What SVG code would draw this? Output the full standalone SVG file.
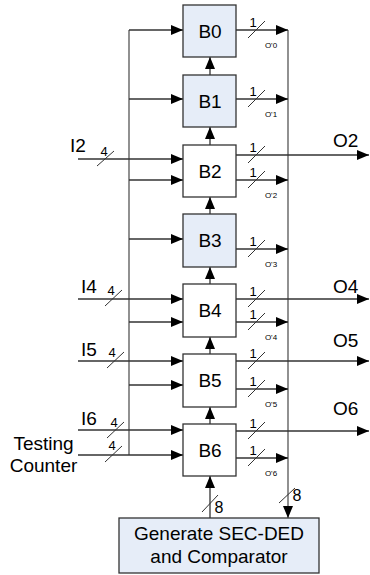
<svg xmlns="http://www.w3.org/2000/svg" width="370" height="575" viewBox="0 0 370 575">
<style>
.blk{stroke:#333;stroke-width:1.3}
.blue{fill:#e6edf8}
.white{fill:#fff}
.lbl{font-family:"Liberation Sans",Arial,sans-serif;font-size:19px;fill:#000}
.mid{text-anchor:middle}
.sm{font-family:"Liberation Sans",Arial,sans-serif;font-size:13px;fill:#000;text-anchor:middle}
.eight{font-family:"Liberation Sans",Arial,sans-serif;font-size:16px;fill:#000;text-anchor:middle}
.xs{font-family:"Liberation Sans",Arial,sans-serif;font-size:8px;fill:#000;text-anchor:middle}
.w{stroke:#333;stroke-width:1.3;fill:none}
.bus{stroke:#555;stroke-width:1.3;fill:none}
.a{marker-end:url(#ah)}
.sl{stroke:#333;stroke-width:1;fill:none}
</style>
<defs>
<marker id="ah" markerUnits="userSpaceOnUse" markerWidth="12" markerHeight="10" refX="12" refY="5" orient="auto">
<path d="M0,0 L12,5 L0,10 z" fill="#000"/>
</marker>
</defs>
<g id="connectors">
<path class="bus" d="M129,30 V455"/>
<path class="bus a" d="M288,30 V518"/>
<path class="w a" d="M129,30 H183"/>
<path class="w a" d="M129,99 H183"/>
<path class="w a" d="M129,180 H183"/>
<path class="w a" d="M129,239 H183"/>
<path class="w a" d="M129,322 H183"/>
<path class="w a" d="M129,385 H183"/>
<path class="w a" d="M78,159 H183"/>
<path class="w a" d="M78,299 H183"/>
<path class="w a" d="M78,361 H183"/>
<path class="w a" d="M78,430 H183"/>
<path class="w a" d="M78,455 H183"/>
<path class="w a" d="M236,30 H288"/>
<path class="w a" d="M236,99 H288"/>
<path class="w a" d="M236,180 H288"/>
<path class="w a" d="M236,249 H288"/>
<path class="w a" d="M236,322 H288"/>
<path class="w a" d="M236,389 H288"/>
<path class="w a" d="M236,458 H288"/>
<path class="w a" d="M236,155 H369"/>
<path class="w a" d="M236,299 H369"/>
<path class="w a" d="M236,361 H369"/>
<path class="w a" d="M236,431 H369"/>
<path class="w a" d="M210,75 V57"/>
<path class="w a" d="M210,145 V127"/>
<path class="w a" d="M210,214 V197"/>
<path class="w a" d="M210,284 V267"/>
<path class="w a" d="M210,354 V337"/>
<path class="w a" d="M210,424 V407"/>
<path class="w a" d="M210,518 V476"/>
<path class="sl" d="M97,166 L114,151"/>
<path class="sl" d="M105,306 L122,290"/>
<path class="sl" d="M107,368 L124,352"/>
<path class="sl" d="M107,438 L124,422"/>
<path class="sl" d="M105,462 L122,446"/>
<path class="sl" d="M248,38 L265,21"/>
<path class="sl" d="M248,107 L265,90"/>
<path class="sl" d="M248,163 L265,146"/>
<path class="sl" d="M248,188 L265,171"/>
<path class="sl" d="M248,257 L265,240"/>
<path class="sl" d="M248,307 L265,290"/>
<path class="sl" d="M248,330 L265,313"/>
<path class="sl" d="M248,369 L265,352"/>
<path class="sl" d="M248,397 L265,380"/>
<path class="sl" d="M248,439 L265,422"/>
<path class="sl" d="M248,466 L265,449"/>
<path class="sl" d="M202,512 L218,495"/>
<path class="sl" d="M279,503 L295,488"/>
<text class="sm" x="104" y="156">4</text>
<text class="sm" x="111" y="295">4</text>
<text class="sm" x="112" y="357">4</text>
<text class="sm" x="114" y="427">4</text>
<text class="sm" x="112" y="450">4</text>
<text class="sm" x="253" y="27">1</text>
<text class="sm" x="253" y="96">1</text>
<text class="sm" x="253" y="152">1</text>
<text class="sm" x="253" y="177">1</text>
<text class="sm" x="253" y="246">1</text>
<text class="sm" x="253" y="296">1</text>
<text class="sm" x="253" y="319">1</text>
<text class="sm" x="253" y="358">1</text>
<text class="sm" x="253" y="386">1</text>
<text class="sm" x="253" y="428">1</text>
<text class="sm" x="253" y="455">1</text>
<text class="eight" x="219" y="513">8</text>
<text class="eight" x="297" y="501">8</text>
<text class="xs" x="271" y="48">O'0</text>
<text class="xs" x="271" y="117">O'1</text>
<text class="xs" x="271" y="198">O'2</text>
<text class="xs" x="271" y="267">O'3</text>
<text class="xs" x="271" y="340">O'4</text>
<text class="xs" x="271" y="407">O'5</text>
<text class="xs" x="271" y="476">O'6</text>
<text class="lbl" x="70" y="152">I2</text>
<text class="lbl" x="81" y="293">I4</text>
<text class="lbl" x="81" y="356">I5</text>
<text class="lbl" x="81" y="425">I6</text>
<text class="lbl mid" x="43.5" y="450">Testing</text>
<text class="lbl mid" x="43.5" y="472">Counter</text>
<text class="lbl" x="333" y="147">O2</text>
<text class="lbl" x="333" y="293">O4</text>
<text class="lbl" x="333" y="347">O5</text>
<text class="lbl" x="333" y="415">O6</text>
</g>
<g id="B0"><rect class="blk blue" x="183" y="5" width="53" height="52"/><text class="lbl mid" x="210" y="38">B0</text></g>
<g id="B1"><rect class="blk blue" x="183" y="75" width="53" height="52"/><text class="lbl mid" x="210" y="108">B1</text></g>
<g id="B2"><rect class="blk white" x="183" y="145" width="53" height="52"/><text class="lbl mid" x="210" y="178">B2</text></g>
<g id="B3"><rect class="blk blue" x="183" y="214" width="53" height="53"/><text class="lbl mid" x="210" y="247">B3</text></g>
<g id="B4"><rect class="blk white" x="183" y="284" width="53" height="53"/><text class="lbl mid" x="210" y="317">B4</text></g>
<g id="B5"><rect class="blk white" x="183" y="354" width="53" height="53"/><text class="lbl mid" x="210" y="387">B5</text></g>
<g id="B6"><rect class="blk white" x="183" y="424" width="53" height="52"/><text class="lbl mid" x="210" y="457">B6</text></g>
<g id="GEN"><rect class="blk blue" x="119" y="518" width="200" height="55"/><text class="lbl mid" x="219" y="540">Generate SEC-DED</text><text class="lbl mid" x="219" y="563">and Comparator</text></g>
</svg>
